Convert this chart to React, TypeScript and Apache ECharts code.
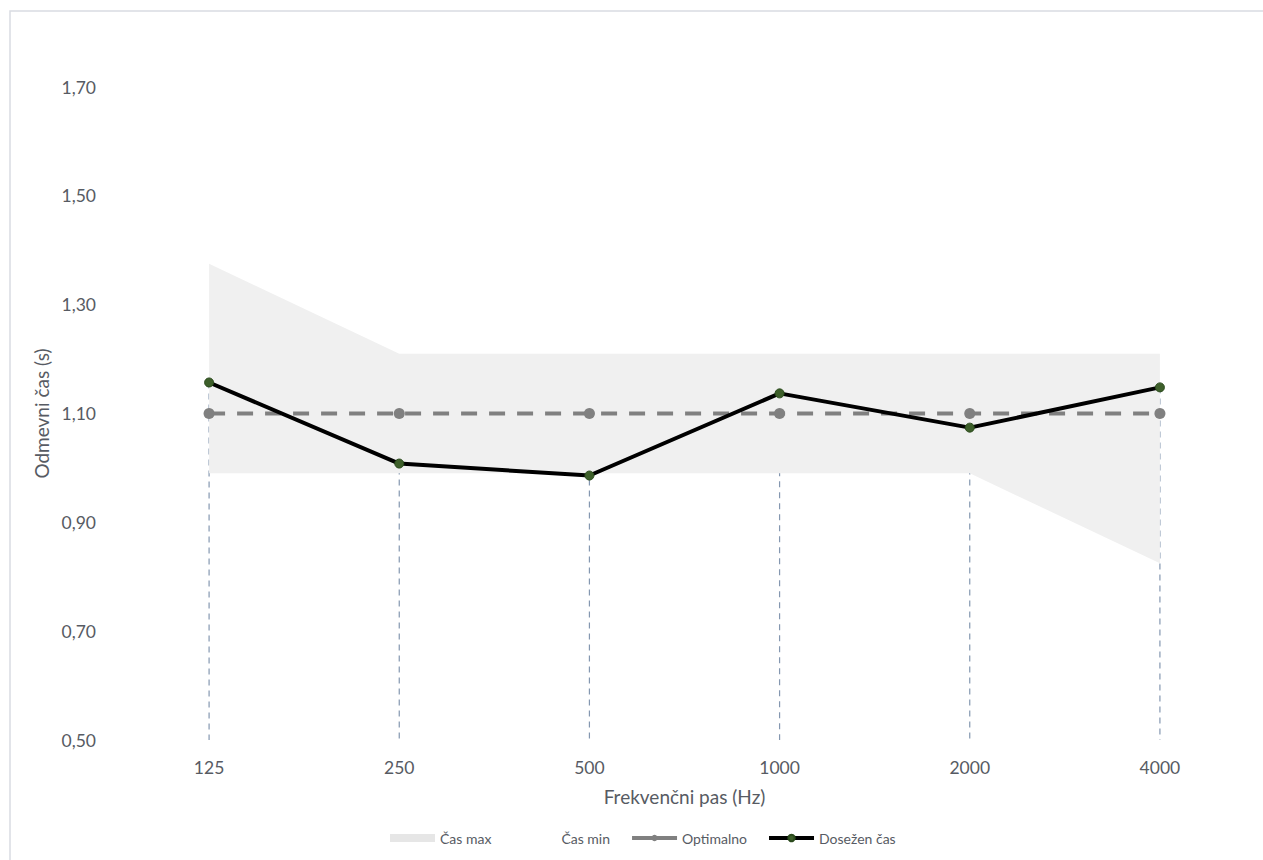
import React, { useEffect, useRef } from "react";
import * as echarts from "echarts";

const categories = ["125", "250", "500", "1000", "2000", "4000"];
const casMax = [1.375, 1.21, 1.21, 1.21, 1.21, 1.21];
const casMin = [0.99, 0.99, 0.99, 0.99, 0.99, 0.825];
const optimalno = [1.1, 1.1, 1.1, 1.1, 1.1, 1.1];
const dosezen = [1.157, 1.008, 0.986, 1.137, 1.074, 1.148];
const yMin = 0.5;
const yMax = 1.7;
const yStep = 0.2;

const FONT = "Lato";
const TXT = "#575b63";

export default function App() {
  const ref = useRef<HTMLDivElement>(null);
  useEffect(() => {
    if (!ref.current) return;
    const chart = echarts.init(ref.current, null, { renderer: "svg" });
    const bandDiff = casMax.map((v, i) => +(v - casMin[i]).toFixed(4));
    const dropData = categories.map((_, i) => [i, Math.max(optimalno[i], dosezen[i])]);
    chart.setOption({
      animation: false,
      backgroundColor: "#ffffff",
      textStyle: { fontFamily: FONT },
      graphic: [
        {
          type: "rect",
          shape: { x: 10, y: 11, width: 1400, height: 1000 },
          style: { fill: "none", stroke: "#d9dce2", lineWidth: 1.5 },
          silent: true,
          z: -10,
        },
      ],
      grid: { left: 114, right: 8, top: 87, bottom: 120, containLabel: false },
      legend: {
        left: 385,
        top: 826,
        itemWidth: 45,
        itemHeight: 8,
        itemGap: 20,
        textStyle: { fontFamily: FONT, fontSize: 14, color: TXT },
        data: [
          { name: "Čas max", icon: "rect", itemStyle: { color: "#e6e6e6" } },
          { name: "Čas min", icon: "rect", itemStyle: { color: "rgba(0,0,0,0)" } },
          { name: "Optimalno", lineStyle: { type: "solid", width: 4 } },
          { name: "Dosežen čas", lineStyle: { width: 4 } },
        ],
      },
      xAxis: {
        type: "category",
        data: categories,
        boundaryGap: true,
        axisLine: { show: false },
        axisTick: { show: false },
        axisLabel: { color: TXT, fontSize: 17.5, fontFamily: FONT, margin: 18 },
        name: "Frekvenčni pas (Hz)",
        nameLocation: "middle",
        nameGap: 47,
        nameTextStyle: { color: TXT, fontSize: 19, fontFamily: FONT },
      },
      yAxis: {
        type: "value",
        min: yMin,
        max: yMax,
        interval: yStep,
        splitLine: { show: false },
        axisLine: { show: false },
        axisTick: { show: false },
        axisLabel: {
          color: TXT,
          fontSize: 17.5,
          fontFamily: FONT,
          margin: 18,
          formatter: (v: number) => v.toFixed(2).replace(".", ","),
        },
        name: "Odmevni čas (s)",
        nameLocation: "middle",
        nameGap: 60,
        nameTextStyle: { color: TXT, fontSize: 19, fontFamily: FONT },
      },
      series: [
        {
          name: "Čas min",
          type: "line",
          stack: "band",
          data: casMin,
          symbol: "none",
          lineStyle: { opacity: 0, width: 0 },
          itemStyle: { color: "rgba(0,0,0,0)" },
          silent: true,
        },
        {
          name: "Čas max",
          type: "line",
          stack: "band",
          data: bandDiff,
          symbol: "none",
          lineStyle: { opacity: 0, width: 0 },
          itemStyle: { color: "#e6e6e6" },
          areaStyle: { color: "#f0f0f0", opacity: 1 },
          silent: true,
        },
        {
          name: "drop",
          type: "custom",
          data: dropData,
          silent: true,
          renderItem: (params: any, api: any) => {
            const i = api.value(0);
            const p1 = api.coord([i, api.value(1)]);
            const p2 = api.coord([i, yMin]);
            return {
              type: "line",
              shape: { x1: p1[0], y1: p1[1], x2: p2[0], y2: p2[1] },
              style: { stroke: "#8497b0", lineWidth: 1.2, lineDash: [6, 5] },
            };
          },
        },
        {
          name: "Optimalno",
          type: "line",
          data: optimalno,
          symbol: "circle",
          symbolSize: 11,
          itemStyle: { color: "#808080" },
          lineStyle: { color: "#808080", width: 4, type: [16, 12] },
        },
        {
          name: "Dosežen čas",
          type: "line",
          data: dosezen,
          symbol: "circle",
          symbolSize: 9,
          itemStyle: { color: "#3d5f2a", borderColor: "#2a4a1c", borderWidth: 1 },
          lineStyle: { color: "#000000", width: 4 },
        },
      ],
    });
    return () => chart.dispose();
  }, []);
  return (
    <div
      ref={ref}
      style={{ position: "absolute", left: 0, top: 0, width: 1263, height: 860 }}
    />
  );
}
